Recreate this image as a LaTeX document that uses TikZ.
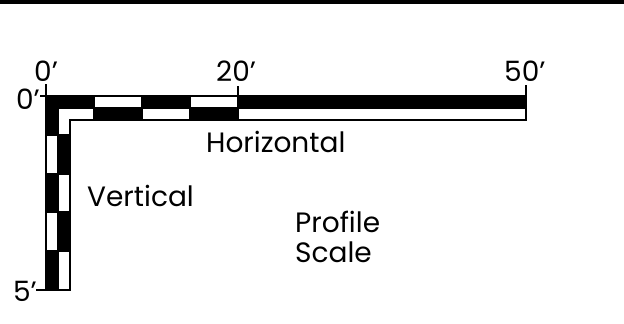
\documentclass[tikz,border=0pt]{standalone}
\usepackage{fontspec}
\setmainfont{Poppins}
\begin{document}
\begin{tikzpicture}[x=1pt,y=-1pt,
  blk/.style={fill=black,draw=black,line width=2pt},
  wht/.style={fill=white,draw=black,line width=2pt},
  tickline/.style={line width=1.5pt},
  lbl/.style={font=\fontsize{28}{32}\selectfont, inner sep=0pt}]
\useasboundingbox (0,0) rectangle (624,324);
\fill (0,0) rectangle (624,4);
% corner cells
\draw[blk] (46,96) -- (94,96) -- (94,108) -- (58,108) -- (58,135) -- (46,135) -- cycle;
\draw[wht] (58,108) -- (94,108) -- (94,120) -- (70,120) -- (70,135) -- (58,135) -- cycle;
% top row
\draw[wht] (94,96) rectangle (142,108);
\draw[blk] (142,96) rectangle (190,108);
\draw[wht] (190,96) rectangle (238,108);
\draw[blk] (238,96) rectangle (526,108);
% bottom row
\draw[blk] (94,108) rectangle (142,120);
\draw[wht] (142,108) rectangle (190,120);
\draw[blk] (190,108) rectangle (238,120);
\draw[wht] (238,108) rectangle (526,120);
% left column
\draw[wht] (46,135) rectangle (58,174);
\draw[blk] (46,174) rectangle (58,212);
\draw[wht] (46,212) rectangle (58,251);
\draw[blk] (46,251) rectangle (58,290);
% right column
\draw[blk] (58,135) rectangle (70,174);
\draw[wht] (58,174) rectangle (70,212);
\draw[blk] (58,212) rectangle (70,251);
\draw[wht] (58,251) rectangle (70,290);
% ticks
\draw[tickline] (46,84) -- (46,96) -- (40,96);
\draw[tickline] (238,86) -- (238,96);
\draw[tickline] (526,85) -- (526,108);
\draw[tickline] (36,290) -- (46,290);
% labels
\node[lbl, anchor=base west] (t0) at (34,81) {0’};
\node[lbl, anchor=base west] (t20) at (216,81) {20’};
\node[lbl, anchor=base west] (t50) at (504,81) {50’};
\node[lbl, anchor=base east] (l0) at (40,109) {0’};
\node[lbl, anchor=base east] (l5) at (37,301) {5’};
\node[lbl, anchor=base west] (hz) at (206,152) {Horizontal};
\node[lbl, anchor=base west] (vt) at (87,206) {Vertical};
\node[lbl, anchor=base west] (pr) at (295,232) {Profile};
\node[lbl, anchor=base west] (sc) at (295,262) {Scale};
\end{tikzpicture}
\end{document}
